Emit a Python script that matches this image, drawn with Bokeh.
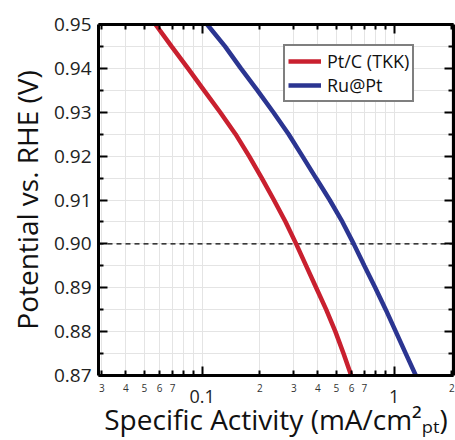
from bokeh.plotting import figure
from bokeh.models import (Range1d, FixedTicker, LogAxis, LinearAxis, Grid, Span,
                          PrintfTickFormatter)
from bokeh.embed import file_html
from bokeh.resources import INLINE

# ---- data ----
potential = [0.95, 0.945, 0.94, 0.935, 0.93, 0.925, 0.92, 0.915, 0.91,
             0.905, 0.90, 0.895, 0.89, 0.885, 0.88, 0.875, 0.87]
ptc_activity = [0.0571, 0.0692, 0.0843, 0.1022, 0.1240, 0.1492, 0.1755, 0.2044, 0.2364,
                0.2721, 0.3087, 0.3482, 0.3926, 0.4428, 0.4944, 0.5451, 0.5978]
rupt_activity = [0.1062, 0.1315, 0.1590, 0.1939, 0.2347, 0.2821, 0.3326, 0.3917, 0.4618,
                 0.5379, 0.6160, 0.6998, 0.7978, 0.9050, 1.0206, 1.1508, 1.2978]
series_names = ["Pt/C (TKK)", "Ru@Pt"]
series_colors = ["#C9202F", "#2B3591"]

x_major = [0.1, 1.0]
x_major_labels = ["0.1", "1"]
x_minor = [0.03, 0.04, 0.05, 0.06, 0.07, 0.08, 0.09,
           0.2, 0.3, 0.4, 0.5, 0.6, 0.7, 0.8, 0.9, 2.0]
x_small_ticks = [0.03, 0.04, 0.05, 0.06, 0.07, 0.2, 0.3, 0.4, 0.5, 0.6, 0.7, 2.0]
x_small_labels = ["3", "4", "5", "6", "7", "2", "3", "4", "5", "6", "7", "2"]
y_major = [0.87, 0.88, 0.89, 0.90, 0.91, 0.92, 0.93, 0.94, 0.95]
y_minor = [0.875, 0.885, 0.895, 0.905, 0.915, 0.925, 0.935, 0.945]
ref_potential = 0.90

FONT = "Open Sans"

p = figure(width=455, height=440, x_axis_type="log",
           x_range=Range1d(0.0288, 2.04), y_range=Range1d(0.87, 0.95),
           x_axis_location=None, y_axis_location=None,
           output_backend="svg", toolbar_location=None,
           min_border_left=98, min_border_right=2, min_border_top=24,
           min_border_bottom=63)
p.outline_line_color = None
p.background_fill_color = "white"
p.border_fill_color = "white"
p.xgrid.visible = False
p.ygrid.visible = False

xt = FixedTicker(ticks=x_major, minor_ticks=x_minor)
yt = FixedTicker(ticks=y_major, minor_ticks=y_minor)

GRID = "#E4E4E4"
gx = Grid(dimension=0, ticker=xt, grid_line_color=GRID, grid_line_width=1,
          minor_grid_line_color=GRID, minor_grid_line_width=1)
gy = Grid(dimension=1, ticker=yt, grid_line_color=GRID, grid_line_width=1,
          minor_grid_line_color=GRID, minor_grid_line_width=1)
p.add_layout(gx)
p.add_layout(gy)

span = Span(location=ref_potential, dimension="width", line_color="black",
            line_width=1.2, line_dash="5 4", level="underlay")
p.add_layout(span)

for acts, name, col in zip([ptc_activity, rupt_activity], series_names, series_colors):
    p.line(acts, potential, line_color=col, line_width=4.5, legend_label=name)


def frame_axis(axis, major_in, minor_in, hide_labels=False):
    axis.axis_line_width = 3
    axis.axis_line_color = "black"
    axis.major_tick_in = major_in
    axis.major_tick_out = 0
    axis.minor_tick_in = minor_in
    axis.minor_tick_out = 0
    axis.major_tick_line_width = 2
    axis.minor_tick_line_width = 2
    axis.major_tick_line_color = "black"
    axis.minor_tick_line_color = "black"
    if hide_labels:
        axis.major_label_text_font_size = "1px"
        axis.major_label_text_alpha = 0
        axis.major_label_standoff = 0


# bottom: ticks only
xb1 = LogAxis(ticker=xt)
frame_axis(xb1, 9, 5, True)
p.add_layout(xb1, "below")

# bottom: small digit labels
xb2 = LogAxis(ticker=FixedTicker(ticks=x_small_ticks, minor_ticks=[]),
              major_label_overrides={t: s for t, s in zip(x_small_ticks, x_small_labels)})
xb2.axis_line_color = None
xb2.major_tick_line_color = None
xb2.minor_tick_line_color = None
xb2.major_label_text_font = FONT
xb2.major_label_text_font_size = "10px"
xb2.major_label_text_color = "#333333"
xb2.major_label_standoff = 2
p.add_layout(xb2, "below")

# bottom: decade labels + title
xb3 = LogAxis(ticker=FixedTicker(ticks=x_major, minor_ticks=[]),
              major_label_overrides={t: s for t, s in zip(x_major, x_major_labels)},
              axis_label="Specific Activity (mA/cm\u00b2\u209a\u209c)")
xb3.axis_line_color = None
xb3.major_tick_line_color = None
xb3.minor_tick_line_color = None
xb3.major_label_text_font = FONT
xb3.major_label_text_font_size = "18px"
xb3.major_label_text_color = "#222222"
xb3.major_label_standoff = -11
xb3.axis_label_text_font = FONT
xb3.axis_label_text_font_size = "28px"
xb3.axis_label_text_font_style = "normal"
xb3.axis_label_text_color = "#111111"
xb3.axis_label_standoff = -6
p.add_layout(xb3, "below")

# top: ticks only
xtop = LogAxis(ticker=xt)
frame_axis(xtop, 9, 5, True)
p.add_layout(xtop, "above")

# left
yl = LinearAxis(ticker=yt, formatter=PrintfTickFormatter(format="%.2f"),
                axis_label="Potential vs. RHE (V)")
frame_axis(yl, 9, 5)
yl.major_label_text_font = FONT
yl.major_label_text_font_size = "19px"
yl.major_label_text_color = "#222222"
yl.major_label_standoff = 7
yl.axis_label_text_font = FONT
yl.axis_label_text_font_size = "28px"
yl.axis_label_text_font_style = "normal"
yl.axis_label_text_color = "#111111"
yl.axis_label_standoff = 5
p.add_layout(yl, "left")

# right: ticks only
yr = LinearAxis(ticker=yt)
frame_axis(yr, 9, 5, True)
p.add_layout(yr, "right")

lg = p.legend[0]
lg.location = (185, 273)
lg.margin = 0
lg.padding = 3
lg.spacing = 0
lg.border_line_color = "black"
lg.border_line_width = 2
lg.background_fill_color = "white"
lg.background_fill_alpha = 1
lg.label_text_font = FONT
lg.label_text_font_size = "18px"
lg.label_text_line_height = 1.0
lg.label_text_color = "#111111"
lg.glyph_width = 33
lg.glyph_height = 20
lg.label_height = 20
lg.label_standoff = 6

open("out.html", "w").write(file_html(p, INLINE))
